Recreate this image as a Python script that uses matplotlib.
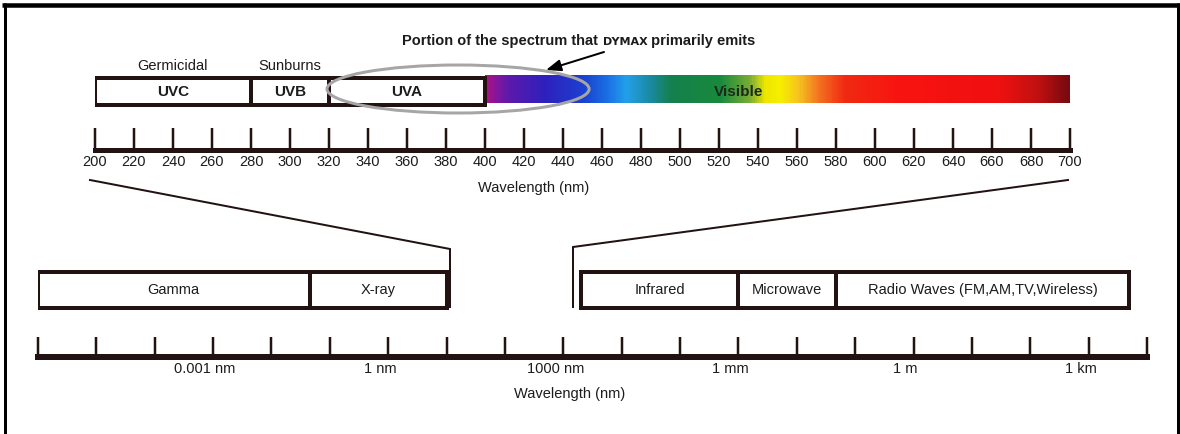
import numpy as np
import matplotlib
matplotlib.use("Agg")
import matplotlib.pyplot as plt
from matplotlib.patches import Ellipse
from matplotlib.colors import LinearSegmentedColormap
from matplotlib.ticker import FixedLocator, FixedFormatter, NullLocator
import matplotlib.transforms as mtransforms

# ---------------- data ----------------
title_parts = ["Portion of the spectrum that ", "DYMAX", " primarily emits"]

uv_names = ["UVC", "UVB", "UVA"]
uv_left = [200, 280, 320]
uv_right = [280, 320, 400]
uv_notes = ["Germicidal", "Sunburns", ""]

visible_name = "Visible"
visible_range = [400, 700]
visible_label_nm = 530
grad_nm = [400, 404, 412, 430, 450, 462, 472, 484.6, 494.9, 520.5, 535.9,
           543.6, 551.3, 561.5, 571.8, 584.6, 612.8, 664, 684.6, 700]
grad_col = ['#b0127a', '#8a169a', '#5a1aac', '#2e20bc', '#1c40d0', '#1a6ee4',
            '#22a0ea', '#1a8aa0', '#14804e', '#188a3c', '#7aae34', '#eee600',
            '#f6f000', '#f6c020', '#f47020', '#f02a12', '#f81410', '#f01010',
            '#c01010', '#780a10']

dymax_center_nm = 386.2
dymax_width_nm = 134.4

top_ticks = [200, 220, 240, 260, 280, 300, 320, 340, 360, 380, 400, 420, 440,
             460, 480, 500, 520, 540, 560, 580, 600, 620, 640, 660, 680, 700]
top_ticklabels = [str(t) for t in top_ticks]

bands = ["Gamma", "X-ray", "Infrared", "Microwave", "Radio Waves (FM,AM,TV,Wireless)"]
band_left = [1e-6, 0.045, 2.0e3, 1.0e6, 4.7e7]
band_right = [0.045, 10.0, 1.0e6, 4.7e7, 4.9e12]

bot_ticks = [1e-6, 1e-5, 1e-4, 1e-3, 1e-2, 1e-1, 1e0, 1e1, 1e2, 1e3, 1e4, 1e5,
             1e6, 1e7, 1e8, 1e9, 1e10, 1e11, 1e12, 1e13]
bot_ticklabels = ["", "", "", "0.001 nm", "", "", "1 nm", "", "", "1000 nm", "", "",
                  "1 mm", "", "", "1 m", "", "", "1 km", ""]

xlabel = "Wavelength (nm)"

# ---------------- style ----------------
W, H = 1180, 434
DPI = 100
PX = 72.0 / DPI
INK = '#221212'
TXT = '#1c1c1c'
FONT = ['Liberation Sans Narrow', 'Liberation Sans', 'DejaVu Sans']
plt.rcParams['font.family'] = FONT
FS = 10.5

fig = plt.figure(figsize=(W / DPI, H / DPI), dpi=DPI)
fig.patch.set_facecolor('white')

# overlay in pixel coordinates
ov = fig.add_axes([0, 0, 1, 1])
ov.set_xlim(0, W)
ov.set_ylim(H, 0)
ov.axis('off')

# ---------- top (UV / visible) axes ----------
tx0, tx1 = 95, 1070
axt = fig.add_axes([tx0 / W, 0, (tx1 - tx0) / W, 1])
axt.set_xlim(200, 700)
axt.set_ylim(H, 0)
axt.patch.set_visible(False)
for s in ['top', 'left', 'right']:
    axt.spines[s].set_visible(False)
axt.spines['bottom'].set_position(('data', 149.5))
axt.spines['bottom'].set_linewidth(5 * PX)
axt.spines['bottom'].set_color(INK)
axt.yaxis.set_visible(False)
axt.xaxis.set_major_locator(FixedLocator(top_ticks))
axt.xaxis.set_major_formatter(FixedFormatter(top_ticklabels))
axt.xaxis.set_minor_locator(NullLocator())
axt.tick_params(axis='x', direction='in', length=22 * PX, width=2.5 * PX,
                color=INK, pad=4, labelsize=FS, labelcolor=TXT)

# UV boxes
bar_y, bar_h = 91, 27
axt.barh([bar_y] * len(uv_names), np.array(uv_right) - np.array(uv_left), left=uv_left,
         height=bar_h, facecolor='white', edgecolor=INK, linewidth=4 * PX, zorder=3)
for name, l, r, note in zip(uv_names, uv_left, uv_right, uv_notes):
    c = (l + r) / 2
    axt.text(c, bar_y + 1, name, ha='center', va='center', fontsize=11,
             fontweight='bold', color=TXT, zorder=5)
    if note:
        axt.text(c, 66, note, ha='center', va='center', fontsize=FS, color=TXT, zorder=5)

# visible gradient
cmap = LinearSegmentedColormap.from_list(
    'vis', list(zip([(v - grad_nm[0]) / (grad_nm[-1] - grad_nm[0]) for v in grad_nm], grad_col)))
grad = np.linspace(0, 1, 600)[None, :]
axt.imshow(grad, cmap=cmap, aspect='auto', extent=[visible_range[0], visible_range[1], 103, 75],
           zorder=2, interpolation='bilinear')
axt.text(visible_label_nm, bar_y + 1, visible_name, ha='center', va='center', fontsize=11,
         fontweight='bold', color='#1a2a1a', zorder=5)
axt.set_xlim(200, 700)
axt.set_ylim(H, 0)

# ellipse marking DYMAX emission
axt.add_patch(Ellipse((dymax_center_nm, 89), width=dymax_width_nm, height=48,
                      facecolor='none', edgecolor='#a6a6a6', linewidth=3 * PX, zorder=6,
                      clip_on=False))

# ---------- bottom (full spectrum) axes ----------
bx0, bx1 = 38, 1147
axb = fig.add_axes([bx0 / W, 0, (bx1 - bx0) / W, 1])
axb.set_xscale('log')
axb.set_xlim(bot_ticks[0], bot_ticks[-1])
axb.set_ylim(H, 0)
axb.patch.set_visible(False)
for s in ['top', 'left', 'right']:
    axb.spines[s].set_visible(False)
axb.spines['bottom'].set_position(('data', 356.5))
axb.spines['bottom'].set_linewidth(6 * PX)
axb.spines['bottom'].set_color(INK)
axb.yaxis.set_visible(False)
axb.xaxis.set_major_locator(FixedLocator(bot_ticks))
axb.xaxis.set_major_formatter(FixedFormatter(bot_ticklabels))
axb.xaxis.set_minor_locator(NullLocator())
axb.tick_params(axis='x', direction='in', length=20 * PX, width=2.5 * PX,
                color=INK, pad=4, labelsize=FS, labelcolor=TXT)
shift = mtransforms.ScaledTranslation(-8 / DPI, 0, fig.dpi_scale_trans)
for lbl in axb.get_xticklabels():
    lbl.set_transform(lbl.get_transform() + shift)

bb_y, bb_h = 290, 36
bl = np.array(band_left)
br = np.array(band_right)
axb.barh([bb_y] * len(bands), br - bl, left=bl, height=bb_h, facecolor='white',
         edgecolor=INK, linewidth=4 * PX, zorder=3)
for name, l, r in zip(bands, bl, br):
    axb.text(np.sqrt(l * r), bb_y, name, ha='center', va='center', fontsize=FS,
             color=TXT, zorder=5)

# ---------- overlay decorations ----------
ov.text(534, 188, xlabel, ha='center', va='center', fontsize=FS, color=TXT)
ov.text(570, 394, xlabel, ha='center', va='center', fontsize=FS, color=TXT)

# zoom connector lines
ov.plot([90, 450, 450], [180, 249, 307], color=INK, lw=2 * PX, solid_joinstyle='miter')
ov.plot([1068, 573, 573], [180, 247, 307], color=INK, lw=2 * PX, solid_joinstyle='miter')

# frame
ov.plot([2, W], [5, 5], color='black', lw=4.5 * PX, solid_capstyle='butt')
ov.plot([4.5, 4.5], [3, H], color='black', lw=3 * PX, solid_capstyle='butt')
ov.plot([1177.5, 1177.5], [3, H], color='black', lw=3 * PX, solid_capstyle='butt')

# title composed of three runs
fig.canvas.draw()
renderer = fig.canvas.get_renderer()
specs = [dict(fontsize=10.5, fontweight='bold', family=FONT),
         dict(fontsize=8, fontweight='bold', family=['DejaVu Sans']),
         dict(fontsize=10.5, fontweight='bold', family=FONT)]
texts = []
for part, sp in zip(title_parts, specs):
    t = ov.text(0, 45, part, ha='left', va='baseline', color=TXT, **sp)
    texts.append(t)
widths = [t.get_window_extent(renderer).width for t in texts]
total = sum(widths)
x = 579 - total / 2
for t, w in zip(texts, widths):
    t.set_x(x)
    x += w

# arrow to the ellipse
ov.annotate('', xy=(546, 70), xytext=(604, 52),
            arrowprops=dict(arrowstyle='-|>,head_length=0.9,head_width=0.35',
                            color='black', lw=2 * PX, shrinkA=0, shrinkB=0))

fig.savefig('out.png', dpi=DPI, facecolor='white')
